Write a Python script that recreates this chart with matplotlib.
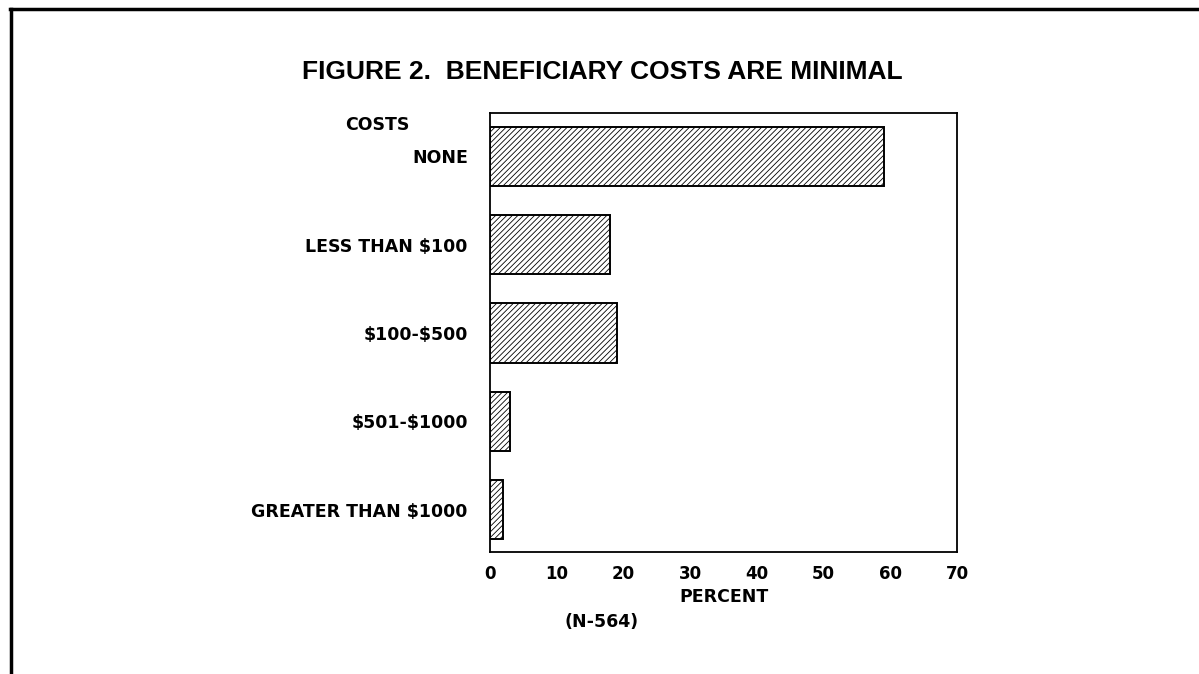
import matplotlib
matplotlib.use("Agg")
import matplotlib.pyplot as plt
from matplotlib.lines import Line2D

# data
categories = ["NONE", "LESS THAN \\$100", "\\$100-\\$500", "\\$501-\\$1000", "GREATER THAN \\$1000"]
percent = [59, 18, 19, 3, 2]
x_ticks = [0, 10, 20, 30, 40, 50, 60, 70]

title = "FIGURE 2.  BENEFICIARY COSTS ARE MINIMAL"
y_header = "COSTS"
x_label = "PERCENT"
n_note = "(N-564)"

plt.rcParams["hatch.linewidth"] = 0.6
label_font = ["DejaVu Sans"]
title_font = ["Liberation Sans", "DejaVu Sans"]

fig = plt.figure(figsize=(11.99, 6.74), dpi=100)
ax = fig.add_axes([0.4087, 0.181, 0.3895, 0.651])

ypos = list(range(len(categories)))
ax.barh(ypos, percent, height=0.67, color="white", edgecolor="black",
        linewidth=1.4, hatch="//////")

ax.set_xlim(0, 70)
ax.set_ylim(4.48, -0.49)
ax.set_xticks(x_ticks)
ax.set_xticklabels([str(t) for t in x_ticks], family=label_font,
                   fontweight="bold", fontsize=12)
ax.set_yticks(ypos)
ax.set_yticklabels(categories, family=label_font, fontweight="bold",
                   fontsize=12.5)
ax.tick_params(axis="x", length=0, pad=9)
ax.tick_params(axis="y", length=0, pad=16)
for s in ax.spines.values():
    s.set_linewidth(1.3)

ax.set_xlabel(x_label, family=label_font, fontweight="bold", fontsize=12.5,
              labelpad=4)

fig.text(0.502, 0.893, title, ha="center", va="center", family=title_font,
         fontweight="bold", fontsize=19)
fig.text(0.315, 0.814, y_header, ha="center", va="center", family=label_font,
         fontweight="bold", fontsize=12.5)
fig.text(0.502, 0.077, n_note, ha="center", va="center", family=label_font,
         fontweight="bold", fontsize=12.5)

# page frame (top and left edges only)
fig.add_artist(Line2D([0.008, 1.0], [0.986, 0.986], color="black", lw=2.5,
                      transform=fig.transFigure))
fig.add_artist(Line2D([0.009, 0.009], [0.0, 0.986], color="black", lw=2.5,
                      transform=fig.transFigure))

fig.savefig("out.png", dpi=100, facecolor="white")
